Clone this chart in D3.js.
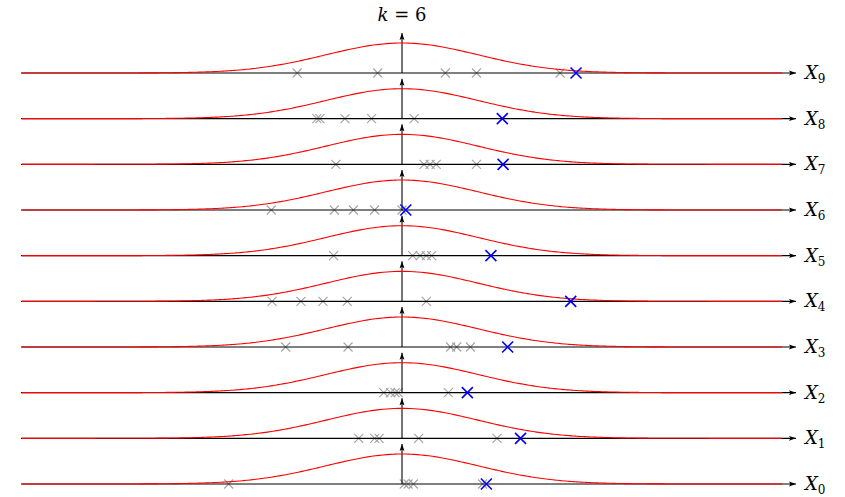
<!DOCTYPE html>
<html>
<head>
<meta charset="utf-8">
<script src="https://cdn.jsdelivr.net/npm/d3@7"></script>
<style>
  html, body { margin: 0; padding: 0; background: #fff; }
  svg { display: block; }
  text { font-family: "DejaVu Serif", serif; }
</style>
</head>
<body>
<svg id="chart" width="845" height="497"></svg>
<script>
// Iteration shown in the title
const iteration = 6;

// Variables X0 .. X9 (bottom to top)
const variables = [0, 1, 2, 3, 4, 5, 6, 7, 8, 9];

// Earlier samples per variable (gray crosses)
const pastSamples = [
  [-2.28, 0.03, 0.08, 0.15, 1.06],        // X0
  [-0.57, -0.36, -0.30, 0.22, 1.25],      // X1
  [-0.24, -0.15, -0.09, -0.05, 0.61],     // X2
  [-1.53, -0.71, 0.64, 0.72, 0.90],       // X3
  [-1.71, -1.33, -1.04, -0.72, 0.32],     // X4
  [-0.90, 0.14, 0.24, 0.32, 0.39],        // X5
  [-1.72, -0.89, -0.64, -0.36, 0.0],      // X6
  [-0.87, 0.29, 0.37, 0.45, 0.98],        // X7
  [-1.12, -1.08, -0.75, -0.40, 0.16],     // X8
  [-1.38, -0.32, 0.57, 0.98, 2.08]        // X9
];

// Current sample per variable (blue crosses)
const currentSample = [1.11, 1.56, 0.86, 1.39, 2.22, 1.17, 0.05, 1.33, 1.32, 2.29];

// Density curve: standard normal, unnormalised peak of 1
const xDomain = [-5, 5];
const densityX = d3.range(-5, 5.0001, 0.05);
const density = x => Math.exp(-x * x / 2);

const svg = d3.select("#chart");

const x = d3.scaleLinear().domain(xDomain).range([22, 782]);
const row = d3.scalePoint().domain(variables).range([484, 73]);
const h = d3.scaleLinear().domain([0, 1]).range([0, 30]);
const axisLeft = 21, axisRight = 796, arrowTopValue = 4 / 3;

// Arrowhead marker
const defs = svg.append("defs");
defs.append("marker")
  .attr("id", "arrow")
  .attr("viewBox", "0 0 10 10")
  .attr("refX", 10).attr("refY", 5)
  .attr("markerWidth", 9).attr("markerHeight", 7)
  .attr("markerUnits", "userSpaceOnUse")
  .attr("orient", "auto")
  .append("path")
  .attr("d", "M0,1.5 L10,5 L0,8.5 L2,5 Z")
  .attr("fill", "#000");

const line = d3.line().curve(d3.curveBasis);
const cross = (cx, cy, r) =>
  `M${cx - r},${cy - r}L${cx + r},${cy + r}M${cx - r},${cy + r}L${cx + r},${cy - r}`;

const g = svg.selectAll("g.var").data(variables).join("g").attr("class", "var");

g.each(function (v) {
  const sel = d3.select(this);
  const base = row(v);

  // past samples
  sel.selectAll("path.past").data(pastSamples[v]).join("path")
    .attr("class", "past")
    .attr("d", d => cross(x(d), base, 4.5))
    .attr("stroke", "#a3a3a3").attr("stroke-width", 1.1).attr("fill", "none");

  // horizontal axis
  sel.append("line")
    .attr("x1", axisLeft).attr("x2", axisRight)
    .attr("y1", base).attr("y2", base)
    .attr("stroke", "#000").attr("stroke-width", 1.1)
    .attr("marker-end", "url(#arrow)");

  // vertical axis
  sel.append("line")
    .attr("x1", x(0)).attr("x2", x(0))
    .attr("y1", base).attr("y2", base - h(arrowTopValue))
    .attr("stroke", "#000").attr("stroke-width", 1.1)
    .attr("marker-end", "url(#arrow)");

  // density curve
  sel.append("path")
    .attr("d", line(densityX.map(t => [x(t), base - h(density(t))])))
    .attr("fill", "none").attr("stroke", "#ff0000").attr("stroke-width", 1.1);

  // current sample
  sel.append("path")
    .attr("d", cross(x(currentSample[v]), base, 5.5))
    .attr("stroke", "#0000ff").attr("stroke-width", 1.6).attr("fill", "none");

  // label X_v
  const t = sel.append("text")
    .attr("x", 805).attr("y", base + 6)
    .attr("font-size", 18).attr("fill", "#000");
  t.append("tspan").attr("font-style", "italic").text("X");
  t.append("tspan").attr("font-size", 12).attr("dy", 4).text(v);
});

// title
const title = svg.append("text")
  .attr("x", x(0)).attr("y", 21)
  .attr("text-anchor", "middle").attr("font-size", 18).attr("fill", "#000");
title.append("tspan").attr("font-style", "italic").text("k");
title.append("tspan").text(" = " + iteration);
</script>
</body>
</html>
